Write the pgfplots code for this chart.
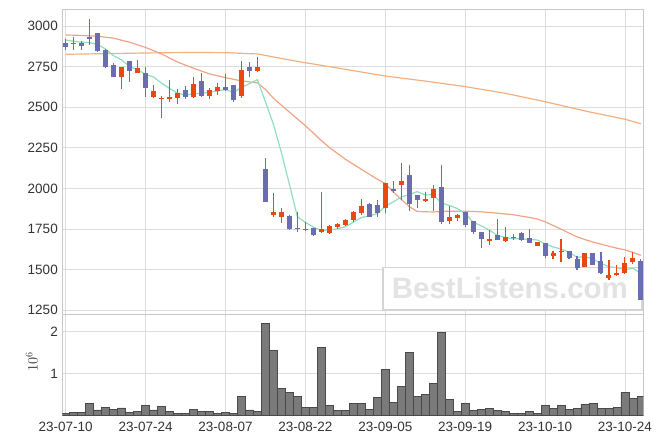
\documentclass[border=0pt]{standalone}
\usepackage{fontspec}
\setmainfont{Liberation Sans}
\usepackage{pgfplots}
\pgfplotsset{compat=1.18}
\usepackage{pgfplotstable}

\definecolor{upred}{HTML}{E8490F}
\definecolor{dnblue}{HTML}{6B6DB3}
\definecolor{ma5}{HTML}{8EDFC0}
\definecolor{ma20}{HTML}{EFA487}
\definecolor{ma120}{HTML}{F0B080}
\definecolor{volfill}{HTML}{7A7A7A}
\definecolor{voledge}{HTML}{4A4A4A}
\definecolor{gridc}{HTML}{DDDDDD}
\definecolor{framec}{HTML}{C8C8C8}
\definecolor{labc}{HTML}{333333}
\definecolor{wmedge}{HTML}{D4D4D4}
\definecolor{wmtext}{HTML}{E3E3E3}

% candles: day index, open, high, low, close
\pgfplotstableread{
x o h l c
0 2897 2918 2852 2873
1 2895 2934 2852 2889
2 2897 2906 2852 2879
3 2932 3041 2883 2922
4 2955 2955 2838 2848
5 2852 2856 2740 2750
6 2760 2770 2684 2688
8 2785 2785 2657 2725
10 2713 2750 2561 2616
15 2606 2631 2549 2561
17 2662 2709 2565 2569
20 2622 2705 2602 2606
21 2637 2637 2532 2545
23 2746 2781 2684 2725
25 2120 2186 1919 1919
28 1831 1839 1745 1751
29 1757 1853 1730 1751
30 1753 1796 1736 1741
31 1755 1755 1708 1714
38 1904 1908 1823 1823
39 1898 1929 1827 1847
41 1997 2046 1970 1987
43 2083 2145 1864 1902
44 1960 1960 1878 1929
47 2007 2145 1782 1796
50 1853 1853 1761 1773
51 1798 1802 1720 1732
52 1730 1730 1634 1687
54 1712 1810 1681 1681
56 1700 1720 1683 1695
57 1724 1734 1679 1683
58 1695 1749 1667 1667
60 1667 1667 1572 1581
63 1613 1615 1564 1574
64 1566 1585 1499 1507
66 1601 1601 1529 1529
67 1552 1607 1474 1482
72 1554 1564 1310 1314
}\down

\pgfplotstableread{
x o h l c
7 2688 2750 2610 2746
9 2709 2790 2709 2742
11 2565 2637 2555 2600
12 2549 2569 2432 2559
13 2551 2668 2534 2563
14 2559 2610 2520 2590
16 2561 2684 2559 2643
18 2569 2617 2549 2606
19 2602 2651 2575 2622
22 2569 2785 2555 2729
24 2725 2807 2719 2746
26 1839 1970 1823 1855
27 1827 1878 1786 1855
32 1734 1981 1724 1749
33 1724 1775 1720 1769
34 1765 1786 1749 1781
35 1777 1810 1769 1806
36 1806 1861 1794 1855
37 1847 1933 1835 1892
40 1882 2034 1847 2034
42 2024 2155 1929 2046
45 1925 1980 1919 1935
46 1943 2021 1864 1995
48 1802 1892 1782 1823
49 1820 1843 1798 1837
53 1679 1741 1650 1689
55 1679 1765 1669 1700
59 1646 1669 1646 1669
61 1581 1617 1564 1601
62 1607 1687 1550 1615
65 1515 1601 1515 1601
68 1451 1560 1437 1468
69 1464 1529 1458 1480
70 1478 1577 1474 1539
71 1544 1611 1533 1574
}\up

\pgfplotstableread{
x y
0 2914
1 2906
2 2900
3 2898
4 2886
5 2858
6 2817
7 2791
8 2751
9 2730
10 2703
11 2686
12 2648
13 2616
14 2586
15 2575
16 2583
17 2585
18 2594
19 2600
20 2609
21 2590
22 2622
23 2645
24 2670
25 2533
26 2395
27 2220
28 2025
29 1826
30 1791
31 1762
32 1741
33 1745
34 1751
35 1764
36 1792
37 1821
38 1831
39 1845
40 1890
41 1917
42 1947
43 1963
44 1980
45 1960
46 1961
47 1911
48 1896
49 1877
50 1845
51 1792
52 1770
53 1744
54 1712
55 1698
56 1690
57 1690
58 1685
59 1683
60 1659
61 1640
62 1627
63 1608
64 1576
65 1580
66 1565
67 1539
68 1517
69 1512
70 1500
71 1509
72 1475
}\mafive

\pgfplotstableread{
x y
0 2945
2 2942
4 2937
6 2925
8 2900
10 2868
12 2828
14 2778
16 2740
18 2705
20 2682
22 2662
24 2650
25 2610
26 2555
27 2512
28 2470
30 2386
32 2295
33 2252
35 2180
37 2118
39 2057
40 2030
41 1978
42 1933
43 1888
44 1858
46 1855
48 1860
50 1860
52 1856
54 1848
56 1838
58 1822
59 1812
60 1795
61 1772
62 1750
63 1725
64 1702
65 1685
66 1670
67 1657
68 1644
69 1632
70 1622
71 1606
72 1588
}\matwenty

\pgfplotstableread{
x y
0 2826
5 2830
10 2834
15 2837
20 2836
24 2828
29 2782
33 2750
40 2692
45 2661
50 2627
55 2586
60 2534
65 2477
70 2426
72 2398
}\malong

% volume in millions
\pgfplotstableread{
x v
0 0.048
1 0.07
2 0.07
3 0.29
4 0.13
5 0.19
6 0.15
7 0.175
8 0.07
9 0.095
10 0.24
11 0.13
12 0.215
13 0.095
14 0.048
15 0.048
16 0.15
17 0.095
18 0.095
19 0.048
20 0.07
21 0.048
22 0.45
23 0.13
24 0.095
25 2.2
26 1.55
27 0.645
28 0.55
29 0.45
30 0.19
31 0.19
32 1.625
33 0.24
34 0.12
35 0.12
36 0.29
37 0.29
38 0.15
39 0.43
40 1.10
41 0.31
42 0.69
43 1.50
44 0.45
45 0.50
46 0.765
47 1.98
48 0.38
49 0.095
50 0.29
51 0.12
52 0.145
53 0.17
54 0.12
55 0.095
56 0.048
57 0.048
58 0.095
59 0.048
60 0.24
61 0.17
62 0.24
63 0.145
64 0.17
65 0.265
66 0.29
67 0.17
68 0.17
69 0.19
70 0.55
71 0.405
72 0.45
}\vol

\pgfplotsset{
  panel/.style={
    scale only axis, anchor=south west, width=581pt,
    xmin=-0.43, xmax=72.3,
    xtick={0,10,...,70},
    grid=major, grid style={gridc, line width=0.8pt},
    axis line style={framec, line width=0.8pt},
    major tick length=0pt,
    tick label style={font=\fontsize{13.5}{16}\selectfont, text=labc},
    /pgf/number format/assume math mode=true,
    /pgf/number format/1000 sep={},
    scaled y ticks=false,
  },
  wick/.style={draw=none, mark=none, forget plot,
    error bars/.cd, y dir=minus, y explicit, error mark=none,
    error bar style={draw=#1, line width=1.1pt}},
  body/.style={draw=none, mark=none, forget plot,
    error bars/.cd, y dir=minus, y explicit, error mark=none,
    error bar style={draw=#1, line width=5pt}},
}

\begin{document}
\begin{tikzpicture}
\useasboundingbox (0,0) rectangle (663pt,444pt);

\begin{axis}[panel, at={(62.3pt,129.7pt)}, height=305pt,
  ymin=1225, ymax=3103, ytick={1250,1500,...,3000},
  xticklabels={}, yticklabel style={xshift=-1pt}]
  % watermark
  \draw[wmedge, line width=1.6pt, fill=white] (axis cs:39.7,1512) rectangle (axis cs:72.1,1253);
  \node[text=wmtext, font=\bfseries\fontsize{29.5}{30}\selectfont] at (axis cs:55.6,1385) {BestListens.com};
  % moving averages
  \addplot[ma120, line width=1.2pt] table[x=x, y=y] {\malong};
  \addplot[ma20, line width=1.2pt] table[x=x, y=y] {\matwenty};
  \addplot[ma5, line width=1.2pt] table[x=x, y=y] {\mafive};
  % candles
  \addplot[wick=dnblue] table[x=x, y=h, y error minus expr=\thisrow{h}-\thisrow{l}] {\down};
  \addplot[body=dnblue] table[x=x, y=o, y error minus expr=\thisrow{o}-\thisrow{c}] {\down};
  \addplot[wick=upred] table[x=x, y=h, y error minus expr=\thisrow{h}-\thisrow{l}] {\up};
  \addplot[body=upred] table[x=x, y=c, y error minus expr=\thisrow{c}-\thisrow{o}] {\up};
\end{axis}

\begin{axis}[panel, at={(62.3pt,28.7pt)}, height=101pt,
  ymin=0, ymax=2.42, ytick={1,2},
  xticklabels={23-07-10,23-07-24,23-08-07,23-08-22,23-09-05,23-09-19,23-10-10,23-10-24},
  xticklabel style={yshift=-3pt}, yticklabel style={xshift=-1pt}]
  \addplot[ybar, bar width=1, fill=volfill, draw=voledge, line width=0.6pt] table[x=x, y=v] {\vol};
\end{axis}

\node[rotate=90, text=labc, font=\fontsize{14.5}{16}\selectfont] at (31.7pt,82.3pt) {$10^6$};
\end{tikzpicture}
\end{document}
